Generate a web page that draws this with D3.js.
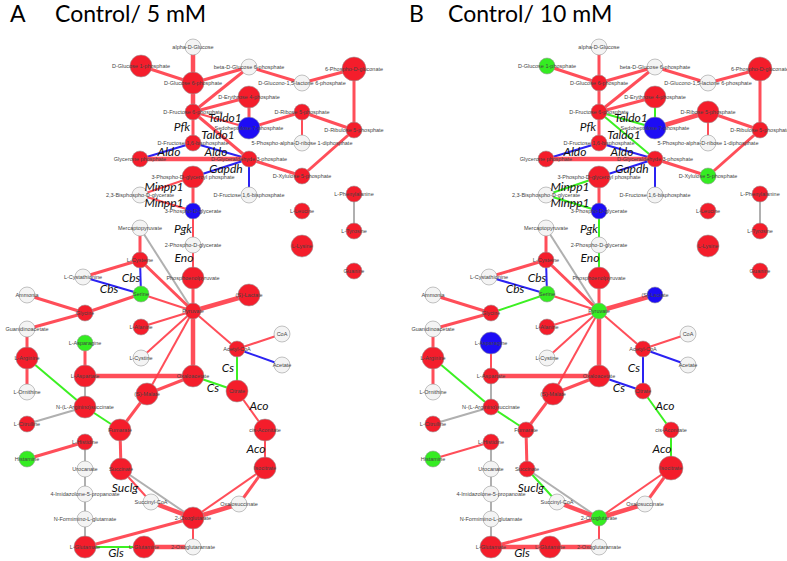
<!DOCTYPE html>
<html>
<head>
<meta charset="utf-8">
<script src="https://d3js.org/d3.v7.min.js"></script>
<style>
  body { margin: 0; background: #ffffff; }
  .knoopLabel { font-family: "Liberation Sans", Arial, sans-serif; font-size: 5.5px; fill: #444; }
  .enzym { font-family: "Lato", sans-serif; font-style: italic; font-size: 12px; fill: #111; }
  .titel { font-family: "Lato", sans-serif; font-size: 23px; fill: #000; }
</style>
</head>
<body>
<div id="netwerkContainer"></div>
<script>

var breedte = 787;
var hoogte = 561;

// metabolieten (knopen) met hun plek in het netwerk
var knoopNamen = ["alpha-D-Glucose", "D-Glucose 1-phosphate", "D-Glucose 6-phosphate",
  "beta-D-Glucose 6-phosphate", "D-Glucono-1,5-lactone 6-phosphate", "6-Phospho-D-gluconate",
  "D-Erythrose 4-phosphate", "D-Fructose 6-phosphate", "Sedoheptulose 7-phosphate",
  "D-Ribose 5-phosphate", "D-Ribulose 5-phosphate", "5-Phospho-alpha-D-ribose 1-diphosphate",
  "D-Fructose 1,6-bisphosphate", "Glycerone phosphate", "D-Glyceraldehyde 3-phosphate",
  "3-Phospho-D-glyceroyl phosphate", "D-Xylulose 5-phosphate", "2,3-Bisphospho-D-glycerate",
  "D-Fructose 1,6-bisphosphate ", "3-Phospho-D-glycerate", "L-Leucine", "L-Phenylalanine",
  "L-Tyrosine", "Mercaptopyruvate", "2-Phospho-D-glycerate", "L-Lysine", "L-Cysteine",
  "L-Cystathionine", "Serine", "Ammonia", "Glycine", "Pyruvate", "Phosphoenolpyruvate",
  "L-Alanine", "Guanidinoacetate", "L-Asparagine", "L-Arginine", "L-Cystine", "L-Aspartate",
  "Oxaloacetate", "(S)-Malate", "L-Ornithine", "(S)-Lactate", "Guanine", "CoA", "Acetyl-CoA",
  "Acetate", "Citrate", "N-(L-Arginino)succinate", "L-Citrulline", "Fumarate", "L-Histidine",
  "Histamine", "Urocanate", "Succinate", "4-Imidazolone-5-propanoate", "Succinyl-CoA",
  "N-Formimino-L-glutamate", "2-Oxoglutarate", "L-Glutamate", "L-Glutamine",
  "2-Oxoglutaramate", "cis-Aconitate", "Isocitrate", "Oxalosuccinate"];

var knoopX = [193, 141, 193, 249, 302, 354, 249, 193, 249, 302, 354, 302, 193, 140, 249,
  193, 302, 140, 249, 193, 302, 354, 354, 140, 193, 302, 140, 83, 141, 27, 85, 193, 193,
  141, 27, 85, 27, 141, 85, 193, 147, 27, 249, 354, 282, 237, 282, 237, 85, 27, 120, 85,
  27, 85, 121, 85, 151, 85, 193, 85, 144, 193, 265, 265, 239];

var knoopY = [47, 66, 83, 67, 83, 69, 97, 112, 128, 112, 130, 143, 143, 159, 159, 177, 176,
  195, 195, 211, 211, 194, 231, 228, 245, 246, 260, 277, 294, 295, 313, 311, 278, 327, 329,
  343, 358, 358, 376, 376, 394, 392, 295, 271, 334, 349, 365, 391, 407, 424, 430, 442, 459,
  469, 469, 494, 502, 519, 518, 547, 547, 547, 430, 468, 504];

// grootte van de knoop (1 klein, 2 middel, 3 groot)
var grootteA = [1, 2, 2, 1, 1, 3, 2, 1, 2, 1, 1, 1, 1, 1, 1, 2, 1, 1, 1, 1, 1, 1, 1, 1, 1,
  2, 1, 1, 1, 1, 1, 1, 2, 1, 1, 1, 2, 1, 2, 2, 2, 1, 2, 1, 1, 1, 1, 2, 2, 1, 2, 1, 1, 1, 2,
  1, 1, 1, 2, 2, 2, 1, 2, 2, 1];
var grootteB = [1, 1, 1, 1, 1, 3, 2, 1, 2, 2, 1, 1, 1, 1, 1, 2, 1, 1, 1, 1, 1, 1, 1, 1, 1,
  2, 1, 1, 1, 1, 1, 1, 2, 1, 1, 2, 2, 1, 1, 2, 2, 1, 1, 1, 1, 1, 1, 1, 1, 1, 1, 1, 1, 1, 1,
  1, 1, 1, 1, 2, 2, 1, 1, 3, 1];

// status van de knoop: r = rood, g = groen, b = blauw, w = niet gemeten
var statusA = ["w", "r", "r", "w", "w", "r", "r", "r", "b", "r", "r", "w", "r", "r", "r",
  "r", "r", "w", "w", "b", "r", "r", "r", "w", "w", "r", "r", "w", "g", "w", "r", "r", "r",
  "r", "w", "g", "r", "w", "r", "r", "r", "w", "r", "r", "w", "r", "w", "r", "r", "r", "r",
  "r", "g", "w", "r", "w", "w", "w", "r", "r", "r", "w", "r", "r", "w"];
var statusB = ["w", "g", "r", "w", "w", "r", "r", "r", "b", "r", "r", "w", "r", "r", "r",
  "r", "g", "w", "w", "b", "r", "r", "r", "w", "w", "r", "r", "w", "g", "w", "r", "g", "r",
  "r", "w", "b", "r", "w", "r", "r", "r", "w", "b", "r", "w", "r", "w", "r", "r", "r", "r",
  "r", "g", "w", "r", "w", "w", "w", "g", "r", "r", "w", "r", "r", "w"];

// verbindingen tussen de metabolieten
var verbindingen = [
  ["alpha-D-Glucose", "D-Glucose 6-phosphate"],
  ["D-Glucose 1-phosphate", "D-Glucose 6-phosphate"],
  ["D-Glucose 6-phosphate", "beta-D-Glucose 6-phosphate"],
  ["beta-D-Glucose 6-phosphate", "D-Glucono-1,5-lactone 6-phosphate"],
  ["D-Glucono-1,5-lactone 6-phosphate", "6-Phospho-D-gluconate"],
  ["6-Phospho-D-gluconate", "D-Ribulose 5-phosphate"],
  ["D-Glucose 6-phosphate", "D-Fructose 6-phosphate"],
  ["beta-D-Glucose 6-phosphate", "D-Fructose 6-phosphate"],
  ["D-Fructose 6-phosphate", "D-Erythrose 4-phosphate"],
  ["D-Erythrose 4-phosphate", "Sedoheptulose 7-phosphate"],
  ["D-Fructose 6-phosphate", "Sedoheptulose 7-phosphate"],
  ["D-Fructose 6-phosphate", "D-Glyceraldehyde 3-phosphate"],
  ["Sedoheptulose 7-phosphate", "D-Ribose 5-phosphate"],
  ["D-Ribose 5-phosphate", "D-Ribulose 5-phosphate"],
  ["D-Ribose 5-phosphate", "5-Phospho-alpha-D-ribose 1-diphosphate"],
  ["D-Fructose 6-phosphate", "D-Fructose 1,6-bisphosphate"],
  ["D-Ribulose 5-phosphate", "D-Xylulose 5-phosphate"],
  ["D-Fructose 1,6-bisphosphate", "Glycerone phosphate"],
  ["D-Fructose 1,6-bisphosphate", "D-Glyceraldehyde 3-phosphate"],
  ["Glycerone phosphate", "D-Glyceraldehyde 3-phosphate"],
  ["D-Glyceraldehyde 3-phosphate", "3-Phospho-D-glyceroyl phosphate"],
  ["D-Glyceraldehyde 3-phosphate", "D-Xylulose 5-phosphate"],
  ["D-Glyceraldehyde 3-phosphate", "D-Fructose 1,6-bisphosphate "],
  ["3-Phospho-D-glyceroyl phosphate", "2,3-Bisphospho-D-glycerate"],
  ["2,3-Bisphospho-D-glycerate", "3-Phospho-D-glycerate"],
  ["3-Phospho-D-glyceroyl phosphate", "3-Phospho-D-glycerate"],
  ["L-Phenylalanine", "L-Tyrosine"],
  ["3-Phospho-D-glycerate", "2-Phospho-D-glycerate"],
  ["2-Phospho-D-glycerate", "Phosphoenolpyruvate"],
  ["Mercaptopyruvate", "L-Cysteine"],
  ["Mercaptopyruvate", "Pyruvate"],
  ["L-Cysteine", "Serine"],
  ["L-Cystathionine", "Serine"],
  ["L-Cysteine", "L-Cystathionine"],
  ["L-Cysteine", "Pyruvate"],
  ["Ammonia", "Glycine"],
  ["Serine", "Glycine"],
  ["Glycine", "Guanidinoacetate"],
  ["Serine", "Pyruvate"],
  ["L-Alanine", "Pyruvate"],
  ["L-Cystine", "Pyruvate"],
  ["(S)-Malate", "Pyruvate"],
  ["Pyruvate", "Oxaloacetate"],
  ["L-Aspartate", "Oxaloacetate"],
  ["(S)-Malate", "Oxaloacetate"],
  ["Guanidinoacetate", "L-Arginine"],
  ["L-Arginine", "L-Ornithine"],
  ["L-Arginine", "N-(L-Arginino)succinate"],
  ["L-Asparagine", "L-Aspartate"],
  ["L-Aspartate", "N-(L-Arginino)succinate"],
  ["Phosphoenolpyruvate", "Pyruvate"],
  ["Pyruvate", "(S)-Lactate"],
  ["Pyruvate", "Acetyl-CoA"],
  ["Acetyl-CoA", "CoA"],
  ["Acetyl-CoA", "Acetate"],
  ["Acetyl-CoA", "Citrate"],
  ["Oxaloacetate", "Citrate"],
  ["L-Citrulline", "N-(L-Arginino)succinate"],
  ["N-(L-Arginino)succinate", "Fumarate"],
  ["(S)-Malate", "Fumarate"],
  ["Fumarate", "Succinate"],
  ["L-Histidine", "Histamine"],
  ["L-Histidine", "Urocanate"],
  ["Urocanate", "4-Imidazolone-5-propanoate"],
  ["4-Imidazolone-5-propanoate", "N-Formimino-L-glutamate"],
  ["N-Formimino-L-glutamate", "L-Glutamate"],
  ["Succinate", "Succinyl-CoA"],
  ["Succinate", "2-Oxoglutarate"],
  ["Succinyl-CoA", "2-Oxoglutarate"],
  ["2-Oxoglutarate", "L-Glutamate"],
  ["L-Glutamate", "L-Glutamine"],
  ["L-Glutamine", "2-Oxoglutaramate"],
  ["2-Oxoglutarate", "2-Oxoglutaramate"],
  ["Citrate", "cis-Aconitate"],
  ["cis-Aconitate", "Isocitrate"],
  ["Isocitrate", "2-Oxoglutarate"],
  ["Isocitrate", "Oxalosuccinate"],
  ["Oxalosuccinate", "2-Oxoglutarate"]
];

// kleur van iedere verbinding (r, g, b, x = grijs)
var lijnStatusA = ["r", "r", "r", "r", "r", "r", "r", "r", "r", "r", "r", "r", "r", "r",
  "r", "r", "r", "b", "b", "r", "b", "r", "b", "r", "r", "r", "x", "r", "r", "r", "x", "b",
  "b", "r", "r", "r", "r", "r", "r", "r", "r", "r", "r", "r", "r", "r", "r", "g", "r", "x",
  "r", "r", "r", "r", "b", "g", "g", "x", "g", "r", "r", "r", "x", "x", "x", "x", "r", "x",
  "r", "r", "g", "r", "r", "r", "r", "r", "r", "r"];
var lijnStatusB = ["r", "r", "r", "r", "r", "r", "r", "r", "r", "g", "g", "g", "r", "r",
  "r", "r", "r", "b", "b", "r", "b", "r", "b", "g", "g", "r", "x", "g", "g", "r", "x", "b",
  "b", "r", "r", "r", "g", "r", "r", "r", "r", "r", "r", "r", "r", "r", "r", "g", "r", "x",
  "r", "r", "r", "r", "b", "b", "b", "x", "g", "r", "r", "r", "x", "x", "x", "x", "g", "x",
  "r", "r", "r", "r", "r", "g", "g", "r", "r", "r"];

// gewicht van iedere verbinding (1 dun, 2 middel, 3 dik)
var lijnGewichtA = [3, 2, 2, 2, 2, 2, 3, 2, 2, 2, 1, 2, 2, 2, 1, 2, 2, 1, 1, 3, 1, 2, 1, 1,
  1, 2, 1, 1, 1, 2, 1, 1, 1, 2, 2, 2, 2, 2, 1, 1, 1, 1, 3, 3, 2, 2, 2, 1, 2, 1, 2, 3, 1, 1,
  1, 1, 1, 1, 1, 2, 2, 2, 1, 1, 1, 1, 1, 1, 3, 2, 1, 3, 1, 1, 1, 1, 2, 3];
var lijnGewichtB = [2, 2, 2, 2, 2, 2, 2, 2, 2, 1, 1, 1, 3, 2, 1, 2, 2, 1, 1, 3, 1, 2, 1, 1,
  1, 2, 1, 1, 1, 2, 1, 1, 1, 2, 2, 2, 1, 2, 1, 1, 1, 1, 3, 3, 2, 2, 2, 1, 1, 1, 2, 3, 1, 1,
  1, 1, 1, 1, 1, 2, 2, 1, 1, 1, 1, 1, 1, 1, 3, 2, 3, 3, 1, 1, 1, 1, 2, 3];

// enzymen die naast de verbindingen staan
var enzymNamen = ["Taldo1", "Pfk", "Taldo1", "Aldo", "Aldo", "Gapdh", "Minpp1", "Minpp1",
  "Pgk", "Eno", "Cbs", "Cbs", "Cs", "Cs", "Aco", "Aco", "Suclg", "Gls"];
var enzymX = [225, 182, 218, 169, 216, 226, 164, 164, 183, 184, 131, 109, 228, 213, 259,
  256, 125, 116];
var enzymY = [118, 127, 135, 152, 152, 169, 187, 203, 229, 258, 278, 289, 368, 388, 406,
  449, 488, 553];

// maak een SVG element
var svg = d3.select("#netwerkContainer")
            .append("svg")
            .attr("width", breedte)
            .attr("height", hoogte);

// kleuren voor knopen en lijnen
var knoopKleur = d3.scaleOrdinal()
                   .domain(["r", "g", "b", "w"])
                   .range(["#f41d2b", "#35ec22", "#1d0cf5", "#f4f4f4"]);
var lijnKleur = d3.scaleOrdinal()
                  .domain(["r", "g", "b", "x"])
                  .range(["#ff3b47", "#3cf022", "#2b22f2", "#b0b0b0"]);
var straal = d3.scaleOrdinal()
               .domain([1, 2, 3])
               .range([8, 11, 12]);
var dikte = d3.scaleOrdinal()
              .domain([1, 2, 3])
              .range([2, 3, 4.5]);

function tekenNetwerk(verschuiving, grootte, status, lijnStatus, lijnGewicht) {

  // schaalfuncties voor de plek van de knopen
  var x = d3.scaleLinear().domain([0, 390]).range([verschuiving, verschuiving + 390]);
  var y = d3.scaleLinear().domain([0, 561]).range([0, 561]);

  var knopen = knoopNamen.map(function(naam, i) {
    return {naam: naam, x: knoopX[i], y: knoopY[i], grootte: grootte[i], status: status[i]};
  });
  var index = {};
  knopen.forEach(function(d) { index[d.naam] = d; });

  var lijnen = verbindingen.map(function(v, i) {
    return {bron: index[v[0]], doel: index[v[1]], status: lijnStatus[i], gewicht: lijnGewicht[i]};
  });

  var groep = svg.append("g");

  // teken de verbindingen
  groep.selectAll("line")
       .data(lijnen)
       .enter()
       .append("line")
       .attr("x1", function(d) { return x(d.bron.x); })
       .attr("y1", function(d) { return y(d.bron.y); })
       .attr("x2", function(d) { return x(d.doel.x); })
       .attr("y2", function(d) { return y(d.doel.y); })
       .attr("stroke", function(d) { return lijnKleur(d.status); })
       .attr("stroke-opacity", function(d) { return d.status == "r" ? 0.9 : 1; })
       .attr("stroke-width", function(d) { return dikte(d.gewicht); });

  // teken de knopen
  groep.selectAll("circle")
       .data(knopen)
       .enter()
       .append("circle")
       .attr("cx", function(d) { return x(d.x); })
       .attr("cy", function(d) { return y(d.y); })
       .attr("r", function(d) { return straal(d.grootte); })
       .attr("fill", function(d) { return knoopKleur(d.status); })
       .attr("stroke", "#9a9a9a")
       .attr("stroke-width", 0.6);

  // namen bij de knopen
  groep.selectAll(".knoopLabel")
       .data(knopen)
       .enter()
       .append("text")
       .attr("class", "knoopLabel")
       .attr("x", function(d) { return x(d.x); })
       .attr("y", function(d) { return y(d.y); })
       .attr("dy", "0.35em")
       .attr("text-anchor", "middle")
       .text(function(d) { return d.naam.trim(); });

  // namen van de enzymen
  groep.selectAll(".enzym")
       .data(enzymNamen)
       .enter()
       .append("text")
       .attr("class", "enzym")
       .attr("x", function(d, i) { return x(enzymX[i]); })
       .attr("y", function(d, i) { return y(enzymY[i]); })
       .attr("dy", "0.35em")
       .attr("text-anchor", "middle")
       .text(function(d) { return d; });
}

tekenNetwerk(0, grootteA, statusA, lijnStatusA, lijnGewichtA);
tekenNetwerk(406, grootteB, statusB, lijnStatusB, lijnGewichtB);

// titels boven de panelen
svg.append("text").attr("class", "titel").attr("x", 10).attr("y", 22).text("A");
svg.append("text").attr("class", "titel").attr("x", 55).attr("y", 22).text("Control/ 5 mM");
svg.append("text").attr("class", "titel").attr("x", 409).attr("y", 22).text("B");
svg.append("text").attr("class", "titel").attr("x", 448).attr("y", 22).text("Control/ 10 mM");

</script>
</body>
</html>
